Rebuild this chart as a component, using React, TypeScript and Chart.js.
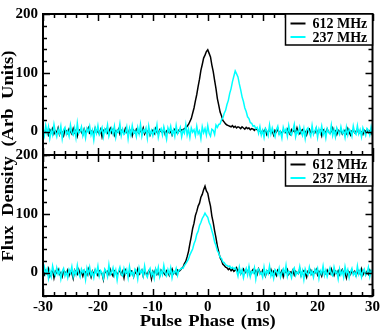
import React, { useEffect, useRef } from "react";
import { Chart, registerables } from "chart.js";

Chart.register(...registerables);

const PHASE_START = -30;
const PHASE_STEP = 0.25;
const X_TICKS = [-30, -20, -10, 0, 10, 20, 30];
const Y_TICKS = [0, 100, 200];
const SERIES_NAMES = ["612 MHz", "237 MHz"];
const SERIES_COLORS = ["#000000", "#00ffff"];
const X_TITLE = "Pulse Phase (ms)";
const Y_TITLE = "Flux Density (Arb Units)";

// top panel, 612 MHz
const TOP_612 = [
  2, -3, 4, -1, -6, 3, 0, 5, -4, 1,
  -2, 6, -5, 2, -1, -7, 3, 1, -3, 4,
  0, -4, 5, -2, 2, -8, 1, 3, -1, -5,
  4, -2, 0, 6, -3, -1, 2, -6, 5, -2,
  1, -4, 3, -9, 2, 0, 4, -3, -1, 5,
  -2, 3, -6, 1, -1, 4, -4, 2, 0, -3,
  5, -1, -5, 3, 1, -7, 2, -2, 4, 0,
  -3, 2, -1, 6, -4, 1, -2, 3, -6, 0,
  2, -3, 5, -1, -4, 3, 0, -2, 4, -5,
  1, 3, -2, 0, -6, 2, 4, -1, -3, 2,
  0, 3,
  3, 5, 6, 9, 12, 17, 22, 31, 40, 52,
  63, 77, 89, 104, 114, 125, 130, 136, 139, 133,
  127, 113, 102, 87, 73, 56, 45, 33, 27, 19,
  16, 13, 11, 10, 9,
  8, 10, 7, 9, 6, 8, 7, 5, 8, 6, 4, 7, 5, 6, 3, 5, 4, 2, 5, 3, 1, 2,
  -3, 2, -1, 4, -5, 0, 3, -2, 1, -6,
  2, -1, 5, -3, 0, -4, 2, 1, -2, 4,
  -1, -5, 3, 0, 2, -3, 6, -2, -4, 1,
  3, -1, 0, -6, 2, 4, -3, 1, -1, -2,
  5, -4, 0, 2, -7, 3, 1, -2, 4, -1,
  -3, 0, 6, -2, 1, -5, 2, -1, 3, -4,
  0, 2, -3, 5, -1, -6, 1, 3, -2, 0,
  4, -3, 1, -1, -5, 2, 0, 3, -2, 1,
  -4, 2,
];

// top panel, 237 MHz
const TOP_237 = [
  5, -7, 10, -3, 8, -11, 2, -6, 12, -1,
  -9, 4, -4, 9, -12, 3, 7, -5, 1, -8,
  11, -2, -6, 6, -10, 14, -3, 0, 8, -7,
  3, -11, 5, -1, 9, -6, 2, -14, 6, -3,
  10, -5, 1, 7, -9, 4, -2, 11, -8, 0,
  6, -4, 9, -10, 2, -1, 13, -7, 4, -5,
  -2, 8, -12, 5, -6, 10, -3, 1, -9, 7,
  -4, 12, -8, 3, -1, 6, -11, 9, -5, 2,
  -7, 4, -3, 11, -10, 1, 5, -6, 8, -2,
  -13, 6, -1, 9, -5, 3, -8, 10, -4, 0,
  7, -9, 2, -3, 12, -6, 4, -10, 6, -1,
  3, -7, 9, -4, 1, -12, 8, -2, 5, -6,
  10, -3, -8, 4, 2, -5, 11,
  7, 12, 13, 20, 23, 31, 36, 46, 53, 65,
  73, 85, 94, 103, 98, 93, 81, 71, 59, 51,
  40, 34, 25, 22, 15, 14, 9, 10, 5, 7,
  -3, 8, -6, 2, -10, 5, 1, -7, 11, -4,
  6, -2, -9, 3, 9, -5, 0, -11, 7, -1,
  4, -8, 10, -3, -6, 2, 12, -9, 1, -4,
  8, -1, -7, 5, -12, 3, 6, -2, -8, 10,
  -5, 1, 7, -10, 4, -3, 9, -6, 2, -11,
  5, -1, -4, 11, -7, 3, -9, 6, 0, -5,
  8, -3, 2, -10, 7, -6, 4, 1, -8, 9,
  -2, -5, 10, -4, 3, -9, 6, -1, -7, 5,
  2, -6, 8, -3,
];

// bottom panel, 612 MHz
const BOT_612 = [
  1, -4, 3, -2, 6, -6, 0, 4, -9, 2,
  -1, 5, -3, 0, -7, 3, 1, -2, 4, -5,
  2, -1, -10, 4, 0, -3, 5, -2, 1, -6,
  3, 0, -4, 6, -1, -8, 2, -3, 4, -1,
  -5, 3, 1, -2, -12, 4, 0, 2, -3, 5,
  -2, -6, 3, 1, -4, 0, 5, -3, 2, -9,
  4, -1, 0, -5, 3, 2, -7, 1, -2, 6,
  -3, 0, 4, -6, 2, -1, -4, 3, 1, -11,
  2, -2, 5, -3, 0, -6, 4, 1, -1, -4,
  3, 0, -5, 2, 6, -2, 1, -3, 4, 2,
  4, 7, 9, 15, 19, 27, 36, 49, 61, 75,
  84, 97, 104, 113, 118, 128, 133, 141, 147, 139,
  135, 123, 113, 96, 85, 71, 59, 45, 35, 25,
  21, 14, 12, 9, 8,
  5, 7, 3, 6, 2, 4, 8, 1, 5, -2,
  3, 6, -1, 4, 0, 7, -4, 2, 5, -1,
  3, -3, 6, 1, -2, 4, 0, -6, 3, 1,
  -1, 5, -3, 2, 0, -5, 4, 1, -2, 3,
  -7, 2, 0, 5, -3, 1, -1, 4, -4, 2,
  0, -2, 6, -5, 1, 3, -1, -8, 2, 0,
  4, -3, 1, -1, 5, -4, 2, 0, -6, 3,
  1, -2, 4, -1, -3, 6, 0, -5, 2, -1,
  3, -4, 1, 5, -2, 0, -9, 3, 1, -3,
  4, -1, 2, -5, 0, 3, -2, 6, -4, 1,
  -1, 2, -3, 4, 0, -2,
];

// bottom panel, 237 MHz
const BOT_237 = [
  -4, 9, -2, 6, -10, 3, -7, 11, 0, -5,
  8, -3, 4, -11, 2, 7, -6, 1, -9, 5,
  -1, 10, -7, 3, -4, 12, -2, -8, 6, 0,
  4, -12, 7, -3, 9, -5, 1, -9, 5, -2,
  11, -6, 3, -1, -10, 6, 2, -7, 13, -4,
  0, 8, -5, 4, -13, 2, 9, -3, -6, 7,
  -2, 5, -9, 10, -4, 1, -7, 6, 3, -11,
  8, -1, 4, -6, 11, -3, -8, 2, 7, -5,
  1, -10, 6, -2, 9, -7, 3, -4, 12, -1,
  -6, 5, -3, 8, -9, 2, -1, 7, -5, 4,
  5, 8, 7, 12, 15, 19, 23, 30, 35, 40,
  49, 55, 65, 70, 80, 85, 92, 96, 101, 97,
  94, 85, 80, 71, 63, 52, 46, 37, 33, 26,
  24, 18, 17, 13, 12, 10, 11, 7, 9, 6,
  8,
  3, -6, 9, -2, 5, -9, 1, 7, -4, 10,
  -7, 2, -1, 8, -11, 4, 6, -3, 0, -8,
  9, -5, 3, -2, 11, -6, 1, -10, 5, 2,
  -4, 7, -8, 0, 6, -3, 12, -7, 2, -1,
  -9, 4, 8, -5, 1, -2, 10, -6, 3, -12,
  6, -1, -4, 9, -3, 2, -8, 5, 0, 7,
  -10, 3, -2, 11, -5, 4, -7, 1, 8, -3,
  -6, 9, -1, 2, -11, 6, -4, 3, -8, 10,
  -2, 5, -9, 1, 7, -4, 0, -6, 11, -3,
  4, -8, 2, 6, -5, -1, 9, -7, 3, -2,
];

const toPoints = (arr: number[]) =>
  arr.map((v, i) => ({ x: PHASE_START + i * PHASE_STEP, y: v }));

const FONT_FAMILY = "'Liberation Serif', 'Times New Roman', serif";
const TITLE_STRETCH = 1.16;

// draw horizontally stretched text, word gaps widened to reach a target length
function fillStretched(ctx: any, text: string, x: number, y: number, target: number) {
  ctx.save();
  ctx.translate(x, y);
  ctx.scale(TITLE_STRETCH, 1);
  ctx.wordSpacing = "0px";
  const w = ctx.measureText(text).width;
  const gaps = text.split(" ").length - 1;
  const extra = gaps > 0 ? Math.max(0, (target / TITLE_STRETCH - w) / gaps) : 0;
  ctx.wordSpacing = `${extra}px`;
  ctx.fillText(text, 0, 0);
  ctx.restore();
}

const framePlugin = {
  id: "frameAndLegends",
  afterDraw(chart: any) {
    const { ctx, chartArea } = chart;
    const xs = chart.scales.x;
    const left = chartArea.left;
    const right = chartArea.right;
    ctx.save();
    ctx.strokeStyle = "#000";
    ctx.lineCap = "butt";
    for (const id of ["yTop", "yBot"]) {
      const ys = chart.scales[id];
      const top = ys.top;
      const bot = ys.bottom;
      ctx.lineWidth = 1.5;
      ctx.beginPath();
      for (let v = -30; v <= 30; v += 2) {
        const px = Math.round(xs.getPixelForValue(v)) + 0.5;
        const len = v % 10 === 0 ? 7 : 4;
        ctx.moveTo(px, top);
        ctx.lineTo(px, top + len);
        ctx.moveTo(px, bot);
        ctx.lineTo(px, bot - len);
      }
      for (let v = -40; v <= 200; v += 20) {
        const py = Math.round(ys.getPixelForValue(v)) + 0.5;
        const len = v % 100 === 0 ? 7 : 4;
        ctx.moveTo(left, py);
        ctx.lineTo(left + len, py);
        ctx.moveTo(right, py);
        ctx.lineTo(right - len, py);
      }
      ctx.stroke();
      ctx.lineWidth = 2;
      ctx.strokeRect(left, top, right - left, bot - top);

      // legend
      const bw = 87;
      const bx = right - bw;
      const bh = 31;
      ctx.fillStyle = "#fff";
      ctx.fillRect(bx, top, bw, bh);
      ctx.lineWidth = 1.5;
      ctx.strokeRect(bx, top, bw, bh);
      ctx.font = `bold 14px ${FONT_FAMILY}`;
      ctx.textAlign = "left";
      ctx.textBaseline = "alphabetic";
      SERIES_NAMES.forEach((name, k) => {
        const ly = top + 9.5 + k * 13.5;
        ctx.strokeStyle = SERIES_COLORS[k];
        ctx.lineWidth = 2;
        ctx.beginPath();
        ctx.moveTo(bx + 5, ly);
        ctx.lineTo(bx + 20, ly);
        ctx.stroke();
        ctx.fillStyle = "#000";
        ctx.fillText(name, bx + 27, ly + 4.5);
      });
      ctx.strokeStyle = "#000";
    }

    // axis titles
    ctx.fillStyle = "#000";
    ctx.font = `bold 16px ${FONT_FAMILY}`;
    ctx.textAlign = "center";
    ctx.textBaseline = "alphabetic";
    fillStretched(ctx, X_TITLE, (left + right) / 2, 326, 136);
    ctx.translate(12.5, 156);
    ctx.rotate(-Math.PI / 2);
    fillStretched(ctx, Y_TITLE, 0, 0, 211);
    ctx.restore();
  },
};

const tickFont = { family: FONT_FAMILY, size: 15, weight: "bold" as const };

const yAxis = () => ({
  type: "linear" as const,
  position: "left" as const,
  stack: "panels",
  stackWeight: 1,
  min: -40,
  max: 200,
  grid: { display: false, drawTicks: false },
  border: { display: false },
  ticks: { font: tickFont, color: "#000", padding: 5 },
  afterBuildTicks: (s: any) => {
    s.ticks = Y_TICKS.map((v) => ({ value: v }));
  },
  afterFit: (s: any) => {
    s.width = 43;
  },
});

export default function App() {
  const ref = useRef<HTMLCanvasElement | null>(null);
  useEffect(() => {
    if (!ref.current) return;
    const chart = new Chart(ref.current, {
      type: "line",
      data: {
        datasets: [
          { label: SERIES_NAMES[0], data: toPoints(TOP_612), borderColor: SERIES_COLORS[0], yAxisID: "yTop", order: 2 },
          { label: SERIES_NAMES[1], data: toPoints(TOP_237), borderColor: SERIES_COLORS[1], yAxisID: "yTop", order: 1 },
          { label: SERIES_NAMES[0], data: toPoints(BOT_612), borderColor: SERIES_COLORS[0], yAxisID: "yBot", order: 2 },
          { label: SERIES_NAMES[1], data: toPoints(BOT_237), borderColor: SERIES_COLORS[1], yAxisID: "yBot", order: 1 },
        ],
      },
      options: {
        animation: false,
        responsive: false,
        maintainAspectRatio: false,
        layout: { padding: { top: 6, right: 9, left: 0, bottom: 0 } },
        plugins: { legend: { display: false }, tooltip: { enabled: false } },
        elements: { point: { radius: 0 }, line: { borderWidth: 1.5, tension: 0 } },
        scales: {
          x: {
            type: "linear",
            min: -30,
            max: 30,
            grid: { display: false, drawTicks: false },
            border: { display: false },
            ticks: { font: tickFont, color: "#000", padding: 2, maxRotation: 0 },
            afterBuildTicks: (s: any) => {
              s.ticks = X_TICKS.map((v) => ({ value: v }));
            },
            afterFit: (s: any) => {
              s.height = 35;
            },
          },
          yBot: yAxis(),
          yTop: yAxis(),
        } as any,
      },
      plugins: [framePlugin],
    });
    return () => chart.destroy();
  }, []);
  return (
    <div style={{ position: "absolute", left: 0, top: 0, width: 382, height: 331 }}>
      <canvas ref={ref} width={382} height={331} style={{ display: "block" }} />
    </div>
  );
}
